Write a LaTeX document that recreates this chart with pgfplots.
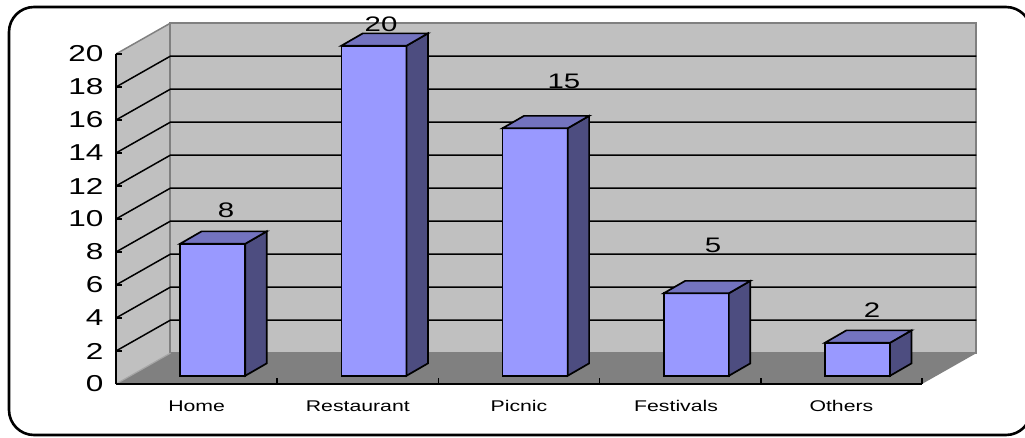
\documentclass[border=0pt]{standalone}
\usepackage{pgfplots}
\pgfplotsset{compat=1.18}
\usepackage{pgfplotstable}
\usepackage{fontspec}
\setmainfont{Liberation Sans}
\definecolor{wall}{HTML}{C0C0C0}
\definecolor{floorc}{HTML}{808080}
\definecolor{front}{HTML}{9999FF}
\definecolor{sidec}{HTML}{4D4D80}
\definecolor{topc}{HTML}{7373BF}
\newcommand\xl[1]{\scalebox{1.37}[1]{\fontsize{15.5}{18}\selectfont #1}}
\newcommand\yl[1]{\scalebox{1.37}[1]{\fontsize{23}{26}\selectfont #1}}
\newcommand\dl[1]{\scalebox{1.4}[1]{\fontsize{21}{24}\selectfont #1}}
\pgfplotstableread{
x v
0.5 8
1.5 20
2.5 15
3.5 5
4.5 2
}\bars
\pgfplotstableread{
x y v
0.682 10.55 8
1.644 21.80 20
2.779 18.35 15
3.703 8.42 5
4.690 4.50 2
}\labels
\begin{document}
\begin{tikzpicture}[x=1pt,y=1pt]
\useasboundingbox (0,0) rectangle (1025,437);
\begin{scope}
\clip (0,0) rectangle (1025,437);
\draw[line width=2.6pt,black,rounded corners=25pt] (9,2) rectangle (1031,430);
\end{scope}
\begin{axis}[
  at={(116pt,53pt)},anchor=south west,
  scale only axis,width=806pt,height=330pt,
  xmin=0,xmax=5,ymin=0,ymax=20,
  clip=false,axis on top=true,
  axis x line*=bottom,axis y line*=left,
  axis line style={black,line width=1.8pt,-},
  tick style={black,line width=1.5pt},
  xtick={0,1,2,3,4,5},
  x tick label as interval,
  xticklabels={\xl{Home},\xl{Restaurant},\xl{Picnic},\xl{\hspace*{-6pt}Festivals},\xl{Others}},
  x tick label style={yshift=-13pt},
  ytick={0,2,...,20},
  yticklabel={\yl{\pgfmathprintnumber[assume math mode=true]{\tick}}},
  y tick label style={xshift=-9pt},
  tickwidth=6pt,
]
% walls and floor
\addplot[fill=wall,draw=none] coordinates {(0,0)(0.338,1.873)(0.338,21.873)(0,20)} --cycle;
\addplot[fill=floorc,draw=none] coordinates {(0,0)(5,0)(5.338,1.873)(0.338,1.873)} --cycle;
\addplot[fill=wall,draw=floorc,line width=2pt] coordinates {(0.338,1.873)(5.338,1.873)(5.338,21.873)(0.338,21.873)} --cycle;
\addplot[draw=floorc,line width=1.5pt] coordinates {(0,20)(0.338,21.873)};
\addplot[draw=floorc!70,line width=1.2pt] coordinates {(0,0)(0.338,1.873)};
% data labels behind gridlines and bars
\addplot[draw=none,mark=none,point meta=explicit symbolic,
  nodes near coords={\dl{\pgfplotspointmeta}},
  every node near coord/.style={anchor=center,inner sep=0pt,text=black}]
  table[x=x,y=y,meta=v] {\labels};
% gridlines
\addplot[black,line width=1.5pt] coordinates {(0,2)(0.338,3.873)(5.338,3.873)};
\addplot[black,line width=1.5pt] coordinates {(0,4)(0.338,5.873)(5.338,5.873)};
\addplot[black,line width=1.5pt] coordinates {(0,6)(0.338,7.873)(5.338,7.873)};
\addplot[black,line width=1.5pt] coordinates {(0,8)(0.338,9.873)(5.338,9.873)};
\addplot[black,line width=1.5pt] coordinates {(0,10)(0.338,11.873)(5.338,11.873)};
\addplot[black,line width=1.5pt] coordinates {(0,12)(0.338,13.873)(5.338,13.873)};
\addplot[black,line width=1.5pt] coordinates {(0,14)(0.338,15.873)(5.338,15.873)};
\addplot[black,line width=1.5pt] coordinates {(0,16)(0.338,17.873)(5.338,17.873)};
\addplot[black,line width=1.5pt] coordinates {(0,18)(0.338,19.873)(5.338,19.873)};
% bar fronts
\addplot[ybar,bar width=65pt,bar shift=0pt,fill=front,draw=black,line width=1.7pt,
  shift={(axis direction cs:0.1,0.5)}] table[x=x,y=v] {\bars};
% sides
\addplot[fill=sidec,draw=black,line width=1.7pt] coordinates {(0.802,0.5)(0.935,1.25)(0.935,9.25)(0.802,8.5)} --cycle;
\addplot[fill=sidec,draw=black,line width=1.7pt] coordinates {(1.802,0.5)(1.935,1.25)(1.935,21.25)(1.802,20.5)} --cycle;
\addplot[fill=sidec,draw=black,line width=1.7pt] coordinates {(2.802,0.5)(2.935,1.25)(2.935,16.25)(2.802,15.5)} --cycle;
\addplot[fill=sidec,draw=black,line width=1.7pt] coordinates {(3.802,0.5)(3.935,1.25)(3.935,6.25)(3.802,5.5)} --cycle;
\addplot[fill=sidec,draw=black,line width=1.7pt] coordinates {(4.802,0.5)(4.935,1.25)(4.935,3.25)(4.802,2.5)} --cycle;
% tops
\addplot[fill=topc,draw=black,line width=1.7pt] coordinates {(0.398,8.5)(0.531,9.25)(0.935,9.25)(0.802,8.5)} --cycle;
\addplot[fill=topc,draw=black,line width=1.7pt] coordinates {(1.398,20.5)(1.531,21.25)(1.935,21.25)(1.802,20.5)} --cycle;
\addplot[fill=topc,draw=black,line width=1.7pt] coordinates {(2.398,15.5)(2.531,16.25)(2.935,16.25)(2.802,15.5)} --cycle;
\addplot[fill=topc,draw=black,line width=1.7pt] coordinates {(3.398,5.5)(3.531,6.25)(3.935,6.25)(3.802,5.5)} --cycle;
\addplot[fill=topc,draw=black,line width=1.7pt] coordinates {(4.398,2.5)(4.531,3.25)(4.935,3.25)(4.802,2.5)} --cycle;
\end{axis}
\end{tikzpicture}
\end{document}
